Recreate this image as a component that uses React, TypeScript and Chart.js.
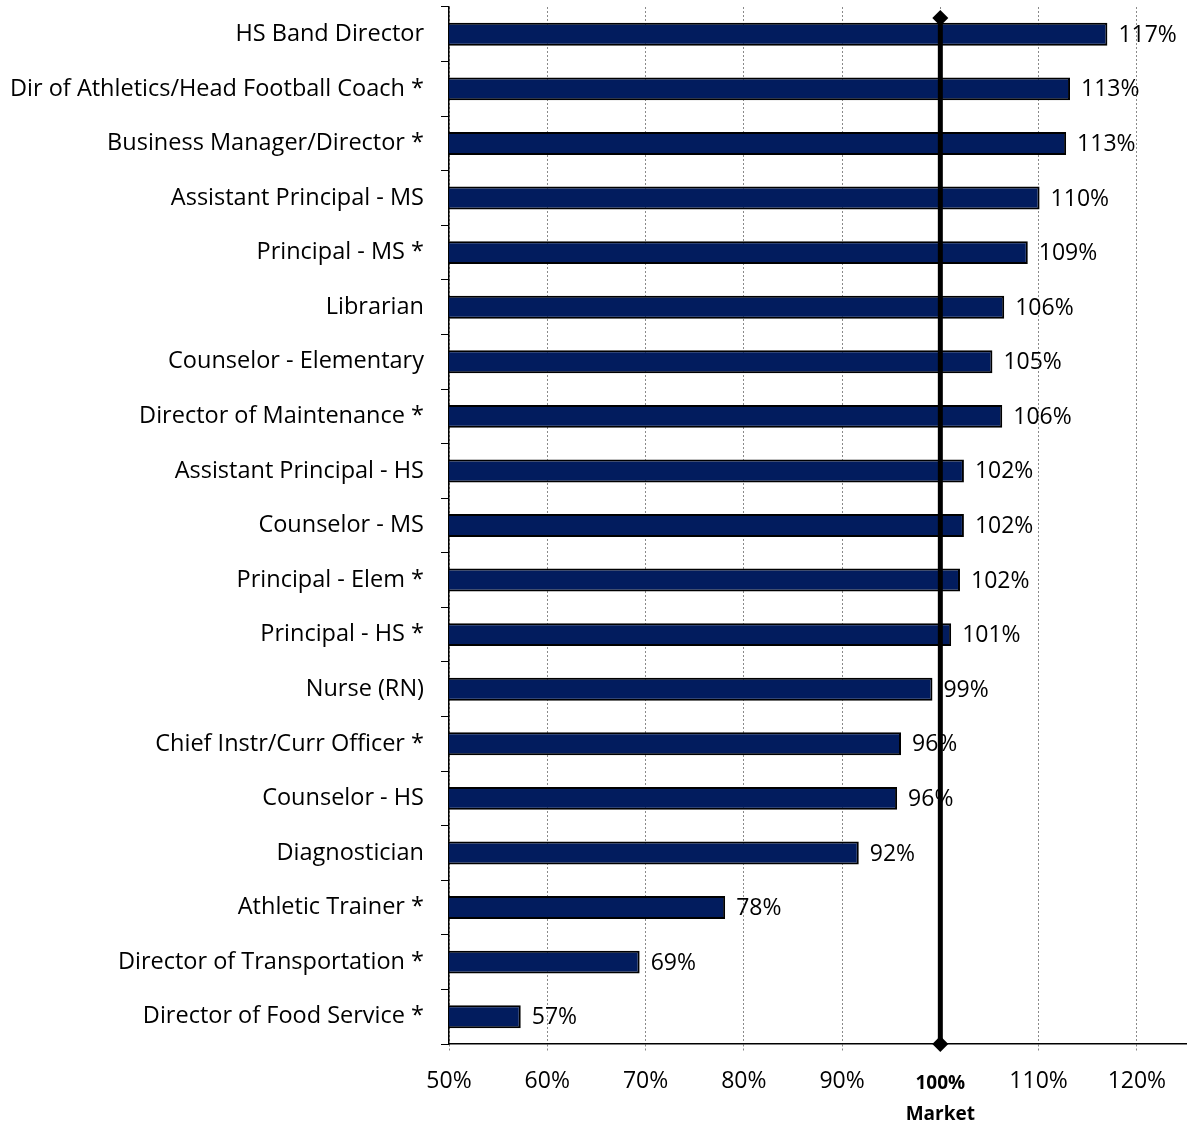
import React, { useEffect, useRef } from "react";
import { Chart, registerables } from "chart.js";

Chart.register(...registerables);

const categories = [
  "HS Band Director",
  "Dir of Athletics/Head Football Coach *",
  "Business Manager/Director *",
  "Assistant Principal - MS",
  "Principal - MS *",
  "Librarian",
  "Counselor - Elementary",
  "Director of Maintenance *",
  "Assistant Principal - HS",
  "Counselor - MS",
  "Principal - Elem *",
  "Principal - HS *",
  "Nurse (RN)",
  "Chief Instr/Curr Officer *",
  "Counselor - HS",
  "Diagnostician",
  "Athletic Trainer *",
  "Director of Transportation *",
  "Director of Food Service *",
];

const values = [
  117.0, 113.2, 112.8, 110.1, 108.9, 106.5, 105.3, 106.3, 102.4, 102.4, 102.0,
  101.1, 99.2, 96.0, 95.6, 91.7, 78.1, 69.4, 57.3,
];

const valueLabels = [
  "117%", "113%", "113%", "110%", "109%", "106%", "105%", "106%", "102%",
  "102%", "102%", "101%", "99%", "96%", "96%", "92%", "78%", "69%", "57%",
];

const xTickValues = [50, 60, 70, 80, 90, 100, 110, 120];
const marketValue = 100;
const marketLabel = ["100%", "Market"];

const FONT = "'Open Sans', 'Noto Sans', sans-serif";

export default function App() {
  const canvasRef = useRef<HTMLCanvasElement | null>(null);

  useEffect(() => {
    document.body.style.margin = "0";
    const canvas = canvasRef.current;
    if (!canvas) return;
    Chart.defaults.color = "#000";

    const dataLabelPlugin = {
      id: "dataLabels",
      afterDatasetsDraw(chart: any) {
        const ctx = chart.ctx;
        const meta = chart.getDatasetMeta(0);
        ctx.save();
        ctx.font = `23px ${FONT}`;
        ctx.fillStyle = "#000";
        ctx.textAlign = "left";
        ctx.textBaseline = "middle";
        meta.data.forEach((bar: any, i: number) => {
          ctx.fillText(valueLabels[i], bar.x + 11, bar.y + 1);
        });
        ctx.restore();
      },
    };

    const marketLinePlugin = {
      id: "marketLine",
      afterDatasetsDraw(chart: any) {
        const ctx = chart.ctx;
        const xs = chart.scales.x;
        const area = chart.chartArea;
        const x = xs.getPixelForValue(marketValue);
        const top = area.top + 11;
        const bottom = area.bottom;
        ctx.save();
        ctx.strokeStyle = "#000";
        ctx.lineWidth = 5;
        ctx.beginPath();
        ctx.moveTo(x, top);
        ctx.lineTo(x, bottom);
        ctx.stroke();
        ctx.fillStyle = "#000";
        const d = 8;
        [top, bottom].forEach((y) => {
          ctx.beginPath();
          ctx.moveTo(x, y - d);
          ctx.lineTo(x + d, y);
          ctx.lineTo(x, y + d);
          ctx.lineTo(x - d, y);
          ctx.closePath();
          ctx.fill();
        });
        ctx.restore();
      },
    };

    const chart = new Chart(canvas, {
      type: "bar",
      data: {
        labels: categories,
        datasets: [
          {
            data: values,
            backgroundColor: "#021C5E",
            borderColor: "#000",
            borderWidth: 2,
            borderSkipped: false,
            barPercentage: 0.42,
            categoryPercentage: 1,
          },
        ],
      },
      options: {
        indexAxis: "y",
        animation: false,
        responsive: false,
        maintainAspectRatio: false,
        layout: { padding: { top: 7, right: 3, left: 0, bottom: 0 } },
        plugins: {
          legend: { display: false },
          tooltip: { enabled: false },
        },
        scales: {
          x: {
            type: "linear",
            min: 50,
            max: 125,
            afterBuildTicks(scale: any) {
              scale.ticks = xTickValues.map((v) => ({ value: v }));
            },
            afterFit(scale: any) {
              scale.height = 80;
              scale.paddingLeft = 0;
              scale.paddingRight = 0;
            },
            grid: {
              color: "#8a8a8a",
              lineWidth: 1,
              tickLength: 8,
              tickColor: "#8a8a8a",
              tickBorderDash: [2, 2],
            },
            border: { color: "#000", width: 1.5, dash: [2, 2] },
            ticks: {
              padding: 16,
              color: "#000",
              maxRotation: 0,
              autoSkip: false,
              font: (ctx: any) =>
                ctx.tick && ctx.tick.value === marketValue
                  ? { family: FONT, size: 19, weight: "bold", lineHeight: 1.65 }
                  : { family: FONT, size: 23, lineHeight: 1.2 },
              callback: (v: any) =>
                Number(v) === marketValue ? marketLabel : `${v}%`,
            },
          },
          y: {
            type: "category",
            afterFit(scale: any) {
              scale.width = 449;
              scale.paddingTop = 0;
              scale.paddingBottom = 0;
            },
            grid: {
              offset: true,
              drawOnChartArea: false,
              tickLength: 8,
              color: "#000",
              lineWidth: 1,
            },
            border: { color: "#000", width: 1.5 },
            ticks: {
              padding: 17,
              color: "#000",
              autoSkip: false,
              font: { family: FONT, size: 23.5 },
            },
          },
        },
      },
      plugins: [dataLabelPlugin, marketLinePlugin],
    } as any);

    return () => chart.destroy();
  }, []);

  return (
    <div style={{ width: 1189, height: 1124 }}>
      <canvas ref={canvasRef} width={1189} height={1124} />
    </div>
  );
}
